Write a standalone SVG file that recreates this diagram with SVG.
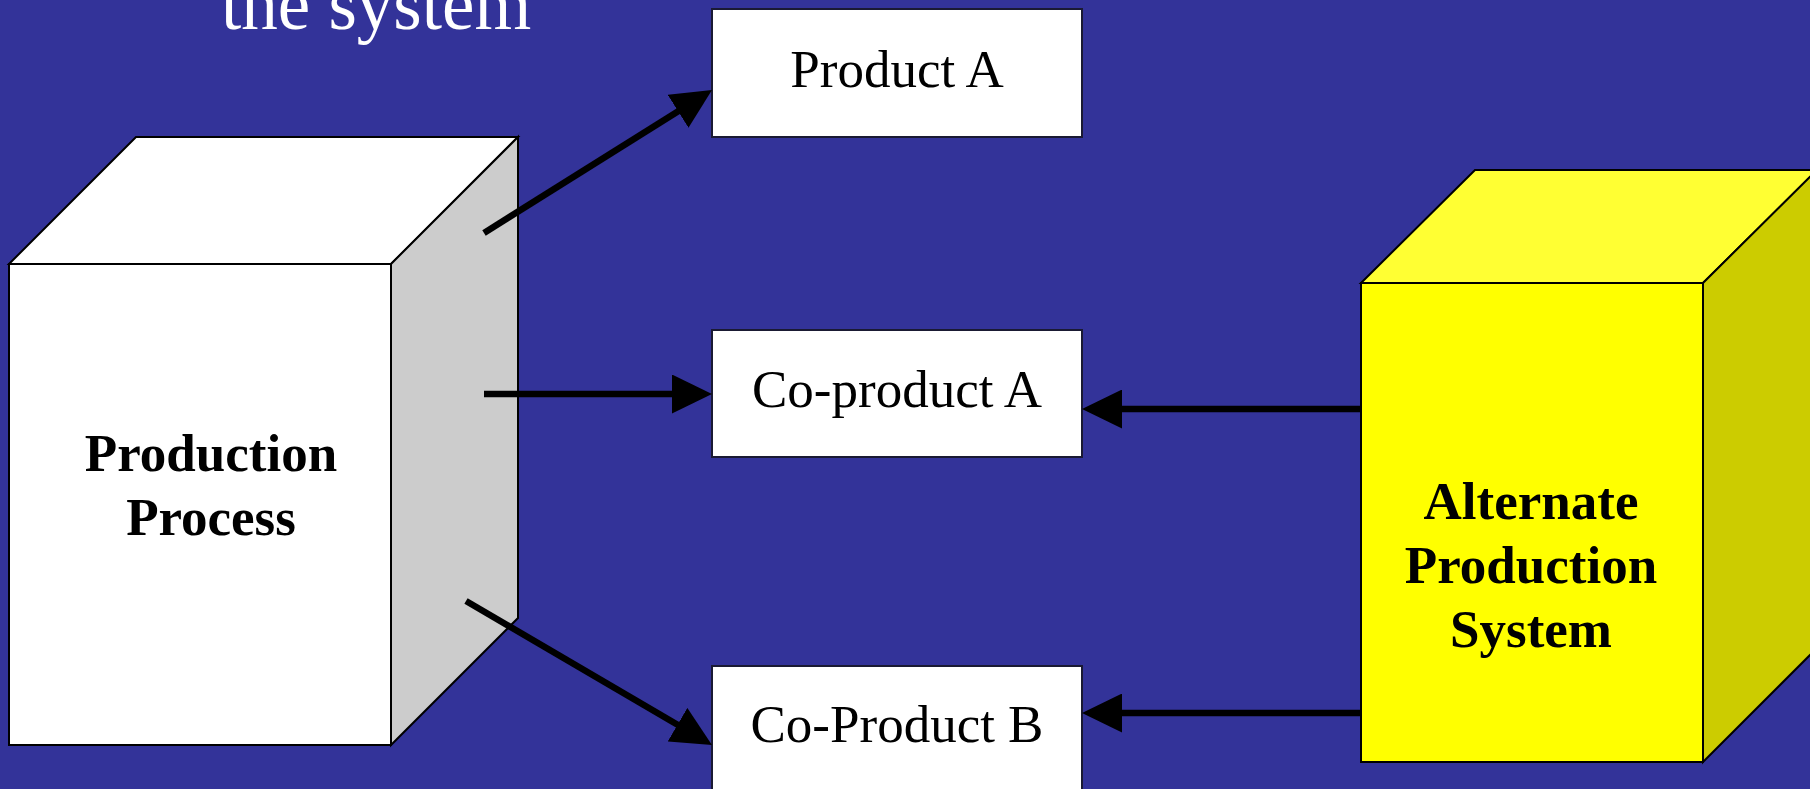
<svg xmlns="http://www.w3.org/2000/svg" width="1810" height="789" viewBox="0 0 1810 789">
  <style>
    .cube { stroke: #000; stroke-width: 2; stroke-linejoin: miter; }
    .box { fill: #fff; stroke: #1a1a33; stroke-width: 2; }
    .lbl { font-family: "Liberation Serif", "Times New Roman", serif; font-size: 53px; fill: #000; text-anchor: middle; }
    .bold { font-weight: bold; }
    .title { font-family: "Liberation Serif", "Times New Roman", serif; font-size: 73px; fill: #fff; }
    .conn { stroke: #000; stroke-width: 6.5; fill: none; marker-end: url(#head); }
  </style>
  <defs>
    <marker id="head" markerUnits="userSpaceOnUse" markerWidth="40" markerHeight="39" refX="10" refY="19.5" orient="auto">
      <path d="M0,0 L40,19.5 L0,39 Z" fill="#000"/>
    </marker>
  </defs>
  <rect x="0" y="0" width="1810" height="789" fill="#333399"/>

  <text class="title" x="221" y="29">the system</text>

  <g id="production-process">
    <polygon class="cube" points="9,264 136,137 518,137 391,264" fill="#ffffff"/>
    <polygon class="cube" points="391,264 518,137 518,618 391,745" fill="#cccccc"/>
    <rect class="cube" x="9" y="264" width="382" height="481" fill="#ffffff"/>
    <text class="lbl bold" x="211" y="471">Production</text>
    <text class="lbl bold" x="211" y="535">Process</text>
  </g>

  <g id="alternate-production-system">
    <polygon class="cube" points="1361,283 1475,170 1817,170 1703,283" fill="#ffff33"/>
    <polygon class="cube" points="1703,283 1817,170 1817,648 1703,762" fill="#cccc00"/>
    <rect class="cube" x="1361" y="283" width="342" height="479" fill="#ffff00"/>
    <text class="lbl bold" x="1531" y="519">Alternate</text>
    <text class="lbl bold" x="1531" y="583">Production</text>
    <text class="lbl bold" x="1531" y="647">System</text>
  </g>

  <g id="product-a">
    <rect class="box" x="712" y="9" width="370" height="128"/>
    <text class="lbl" x="897" y="87">Product A</text>
  </g>

  <g id="co-product-a">
    <rect class="box" x="712" y="330" width="370" height="127"/>
    <text class="lbl" x="897" y="407">Co-product A</text>
  </g>

  <g id="co-product-b">
    <rect class="box" x="712" y="666" width="370" height="127"/>
    <text class="lbl" x="897" y="742">Co-Product B</text>
  </g>

  <g id="connectors">
    <line class="conn" x1="484" y1="233" x2="686.6" y2="106"/>
    <line class="conn" x1="484" y1="394" x2="682" y2="394"/>
    <line class="conn" x1="466" y1="601" x2="686.1" y2="729.8"/>
    <line class="conn" x1="1361" y1="409" x2="1112" y2="409"/>
    <line class="conn" x1="1361" y1="713" x2="1112" y2="713"/>
  </g>
</svg>
